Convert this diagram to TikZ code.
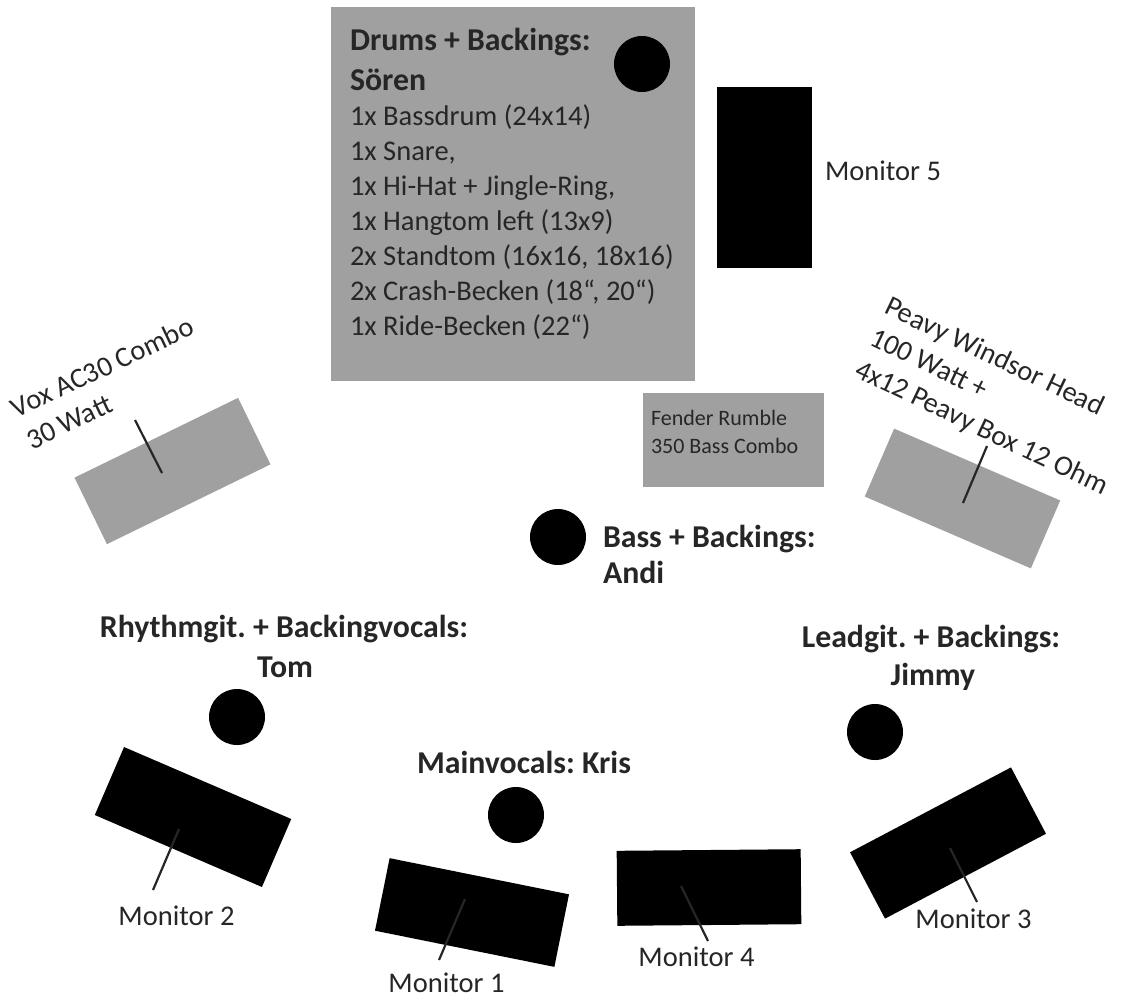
\documentclass[tikz,border=0pt]{standalone}
\usepackage{fontspec}
\setmainfont{Carlito}
\definecolor{txt}{HTML}{262626}
\definecolor{amp}{HTML}{A0A0A0}
\begin{document}
\frenchspacing
\begin{tikzpicture}[x=1pt,y=-1pt,
  every node/.style={inner sep=0pt, outer sep=0pt},
  lbl/.style={font=\fontsize{28.5}{35}\selectfont, text=txt, anchor=base west},
  small/.style={font=\fontsize{22}{28}\selectfont, text=txt, anchor=base west},
  head/.style={font=\fontsize{31.8}{40}\selectfont\bfseries, text=txt, anchor=base west},
  person/.style={circle, fill=black, minimum size=56pt},
  monitor/.style={rectangle, fill=black, minimum width=182pt, minimum height=74pt},
  ampbox/.style={rectangle, fill=amp},
  leader/.style={draw=txt, line width=2.2pt},
]
\useasboundingbox (0,0) rectangle (1122,997);

% grey boxes
\node[ampbox, minimum width=364pt, minimum height=374pt] (drums) at (513,194) {};
\node[ampbox, minimum width=181pt, minimum height=94pt] (fender) at (733.5,440) {};
\node[ampbox, minimum width=182pt, minimum height=74pt, rotate=26] (vox) at (172.5,471) {};
\node[ampbox, minimum width=181pt, minimum height=74pt, rotate=-23.4] (peavy) at (962.5,498.5) {};

% monitors
\node[monitor, minimum width=95pt, minimum height=181pt] (m5) at (764.5,177.5) {};
\node[monitor, rotate=-23.3] (m2) at (193,817) {};
\node[monitor, minimum width=183pt, rotate=-11.4] (m1) at (472,912.5) {};
\node[monitor, minimum width=184pt, minimum height=75pt, rotate=0.5] (m4) at (709,887.5) {};
\node[monitor, minimum height=75pt, rotate=27.8] (m3) at (948,843) {};

% persons
\node[person] (soeren) at (642,64) {};
\node[person] (andi) at (558,537) {};
\node[person] (tom) at (237,717) {};
\node[person] (kris) at (516,815) {};
\node[person] (jimmy) at (875,732) {};

% drum texts
\node[head] (dh1) at (350,50) {Drums + Backings:};
\node[head] (dh2) at (350,90) {Sören};
\node[lbl] (d1) at (350,125) {1x Bassdrum (24x14)};
\node[lbl] (d2) at (350,160) {1x Snare,};
\node[lbl] (d3) at (350,195) {1x Hi-Hat + Jingle-Ring,};
\node[lbl] (d4) at (350,230) {1x Hangtom left (13x9)};
\node[lbl] (d5) at (350,265) {2x Standtom (16x16, 18x16)};
\node[lbl] (d6) at (350,300) {2x Crash-Becken (18“, 20“)};
\node[lbl] (d7) at (350,335) {1x Ride-Becken (22“)};

% fender (anchor on last line's baseline)
\node[small, align=left] (f1) at (651,453) {Fender Rumble\\350 Bass Combo};

% amp labels (anchor on last line's baseline)
\node[lbl, rotate=25.4, align=left] (vt) at (32,450) {Vox AC30 Combo\\30 Watt};
\node[lbl, rotate=-25.5, align=left] (pt) at (853,376) {Peavy Windsor Head\\100 Watt +\\4x12 Peavy Box 12 Ohm};

% person labels
\node[head] (bh1) at (603,547) {Bass + Backings:};
\node[head] (bh2) at (603,583) {Andi};
\node[head, anchor=base] (rh1) at (284,637) {Rhythmgit. + Backingvocals:};
\node[head, anchor=base] (rh2) at (285,677) {Tom};
\node[head, anchor=base] (lh1) at (931,647) {Leadgit. + Backings:};
\node[head, anchor=base] (lh2) at (933,685) {Jimmy};
\node[head] (mh) at (417,773) {Mainvocals: Kris};

% monitor labels
\node[lbl] (ml5) at (825,180) {Monitor 5};
\node[lbl, anchor=base] (ml2) at (176.5,925) {Monitor 2};
\node[lbl, anchor=base] (ml1) at (446.5,992) {Monitor 1};
\node[lbl, anchor=base] (ml4) at (696.5,966) {Monitor 4};
\node[lbl, anchor=base] (ml3) at (973.5,928) {Monitor 3};

% leader lines
\coordinate (vA) at (135,420); \coordinate (vB) at (162,473);
\coordinate (pA) at (987,446); \coordinate (pB) at (963,503);
\coordinate (m2A) at (179,829); \coordinate (m2B) at (153,890);
\coordinate (m1A) at (465,899); \coordinate (m1B) at (439,960);
\coordinate (m4A) at (681,886); \coordinate (m4B) at (708,941);
\coordinate (m3A) at (950,848); \coordinate (m3B) at (977,902);
\draw[leader] (vA) -- (vB);
\draw[leader] (pA) -- (pB);
\draw[leader] (m2A) -- (m2B);
\draw[leader] (m1A) -- (m1B);
\draw[leader] (m4A) -- (m4B);
\draw[leader] (m3A) -- (m3B);
\end{tikzpicture}
\end{document}
